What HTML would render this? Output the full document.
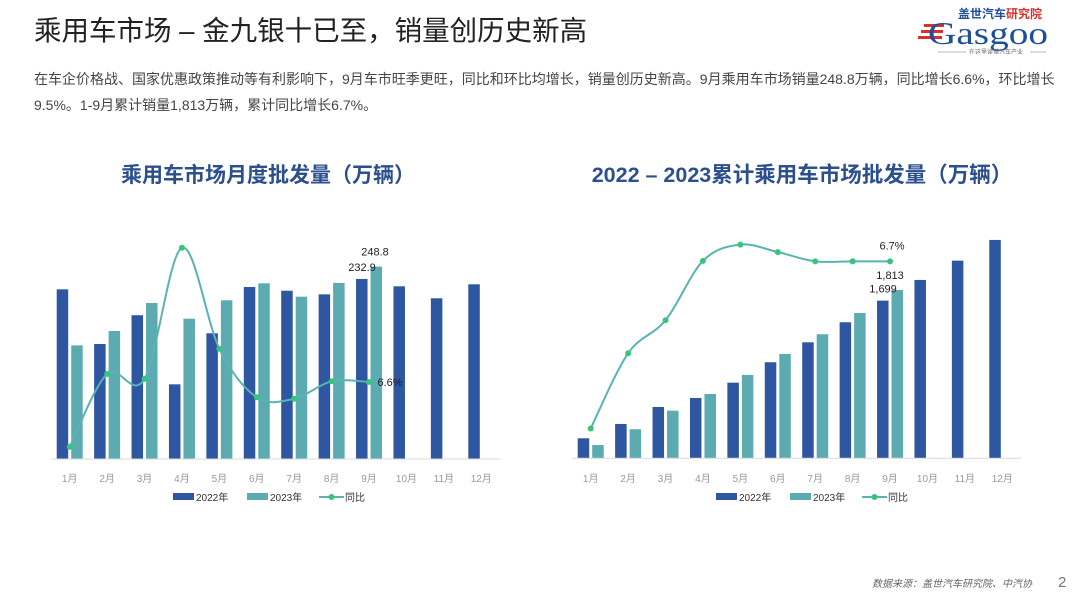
<!DOCTYPE html>
<html><head><meta charset="utf-8">
<style>
body{margin:0;width:1080px;height:596px;background:#fff;overflow:hidden;font-family:"Liberation Sans","Noto Sans CJK SC",sans-serif;position:relative}
.abs{position:absolute;white-space:nowrap}
</style></head><body>
<div class="abs" style="left:34px;top:8px;font-size:27.5px;color:#222;">乘用车市场 – 金九银十已至，销量创历史新高</div>
<div class="abs" style="left:34px;top:66px;font-size:14px;color:#444;line-height:26px;">在车企价格战、国家优惠政策推动等有利影响下，9月车市旺季更旺，同比和环比均增长，销量创历史新高。9月乘用车市场销量248.8万辆，同比增长6.6%，环比增长<br>9.5%。1-9月累计销量1,813万辆，累计同比增长6.7%。</div>
<div class="abs" style="left:918px;top:2px;width:135px;height:52px;">
 <svg width="135" height="52">
  <text x="40" y="16" font-size="12" font-weight="bold" fill="#1f4f9a" font-family="Noto Sans CJK SC,sans-serif">盖世汽车</text>
  <text x="88" y="16" font-size="12" font-weight="bold" fill="#d9302c" font-family="Noto Sans CJK SC,sans-serif">研究院</text>
  <rect x="6" y="22" width="20" height="3" fill="#d9302c"/><rect x="3" y="28" width="22" height="3" fill="#d9302c"/><rect x="0" y="34" width="24" height="3" fill="#d9302c"/>
  <text x="10" y="42" font-size="32" fill="#1f4f9a" font-family="Liberation Serif,serif" textLength="120" lengthAdjust="spacingAndGlyphs">Gasgoo</text>
  <line x1="20" y1="50" x2="48" y2="50" stroke="#bbb"/><line x1="112" y1="50" x2="128" y2="50" stroke="#bbb"/>
  <text x="51" y="52" font-size="6" fill="#666" font-family="Noto Sans CJK SC,sans-serif">在这里读懂汽车产业</text>
 </svg></div>
<svg id="c" width="1080" height="596" class="abs" style="left:0;top:0"></svg>
<div class="abs" style="left:872px;top:575px;font-size:10px;font-style:italic;color:#666;">数据来源：盖世汽车研究院、中汽协</div>
<div class="abs" style="left:1058px;top:574px;font-size:15px;color:#777;">2</div>
<script>
const months=["1月","2月","3月","4月","5月","6月","7月","8月","9月","10月","11月","12月"];
const monthly2022=[219.5,148.8,186,96.6,162.6,222.5,217.7,213,232.9,223.4,207.9,226];
const monthly2023=[147,165.6,201.8,181.5,205.3,227.3,210,227.7,248.8];
const monthlyYoY=[-31.3,11.3,8.4,85,26,-2.3,-3.2,7,6.6];
const cum2022=[215.6,370,553,650,815,1035,1250,1466,1699,1922,2130,2353];
const cum2023=[143,313,513,693,898,1124,1337,1566,1813];
const cumYoY=[-31.3,-14.2,-6.7,6.8,10.5,8.8,6.7,6.7,6.7];
const legendLabels=["2022年","2023年","同比"];
const NS="http://www.w3.org/2000/svg",svg=document.getElementById('c');
function el(t,a,p){const e=document.createElementNS(NS,t);for(const k in a)e.setAttribute(k,a[k]);(p||svg).appendChild(e);return e;}
function txt(x,y,s,a,p){const e=el('text',Object.assign({x:x,y:y},a),p);e.textContent=s;return e;}
function smooth(pts){let d="M"+pts[0][0]+","+pts[0][1];for(let i=0;i<pts.length-1;i++){const p0=pts[i-1]||pts[i],p1=pts[i],p2=pts[i+1],p3=pts[i+2]||p2;const t=0.5/3;d+=" C"+(p1[0]+(p2[0]-p0[0])*t)+","+(p1[1]+(p2[1]-p0[1])*t)+" "+(p2[0]-(p3[0]-p1[0])*t)+","+(p2[1]-(p3[1]-p1[1])*t)+" "+p2[0]+","+p2[1];}return d;}
function chart(o){
 const g=el('g',{});
 const band=(o.x1-o.x0)/12;
 const xc=i=>o.x0+band*(i+0.5);
 const y=v=>o.base-v*o.k;
 const yl=v=>o.lz-v*o.lk;
 const t=txt(o.tx,182,o.title,{'font-size':o.ts,'font-weight':'bold','text-anchor':'middle',fill:'#2c4f8e','font-family':'Liberation Sans,Noto Sans CJK SC,sans-serif'},g);
 
 o.a.forEach((v,i)=>{const r=el('rect',{x:xc(i)-13,y:y(v),width:11.5,height:o.base-y(v),fill:'#2e56a1'},g);
  });
 o.b.forEach((v,i)=>{const r=el('rect',{x:xc(i)+1.5,y:y(v),width:11.5,height:o.base-y(v),fill:'#5babb1'},g);
  });
 const ax=el('line',{x1:o.x0,x2:o.x1,y1:o.base,y2:o.base,stroke:'#d9d9d9'},g);
 
 months.forEach((m,i)=>{const l=txt(xc(i),482,m,{'font-size':10,'text-anchor':'middle',fill:'#999'},g);
  });
 const pts=o.c.map((v,i)=>[xc(i),yl(v)]);
 const p=el('path',{d:smooth(pts),fill:'none',stroke:'#5ab3b3','stroke-width':2},g);
 
 pts.forEach(q=>{const c=el('circle',{cx:q[0],cy:q[1],r:3,fill:'#35c67a'},g);
  });
 const n=o.b.length-1,fs={'font-size':11,fill:'#222','text-anchor':'middle'};
 let l1=txt(xc(n)-7,y(o.a[n])-8,o.la,fs,g);
 let l2=txt(xc(n)+o.lbx,y(o.b[n])-o.lby,o.lb,fs,g);
 let l3=txt(pts[n][0]+o.lcx,pts[n][1]+o.lcy,o.lc,fs,g);
 const L=o.leg;
 const r1=el('rect',{x:L,y:493,width:21,height:7,fill:'#2e56a1'},g);
 txt(L+23,501,legendLabels[0],{'font-size':10,fill:'#333'},g);
 const r2=el('rect',{x:L+74,y:493,width:21,height:7,fill:'#5babb1'},g);
 txt(L+97,501,legendLabels[1],{'font-size':10,fill:'#333'},g);
 const ll=el('line',{x1:L+146,x2:L+171,y1:497,y2:497,stroke:'#5ab3b3','stroke-width':2},g);
 el('circle',{cx:L+158.5,cy:497,r:3,fill:'#35c67a'},g);
 txt(L+172,501,legendLabels[2],{'font-size':10,fill:'#333'},g);
}
chart({name:'monthly-chart',title:'乘用车市场月度批发量（万辆）',tx:268,ts:21,x0:51,x1:500,base:459,k:0.773,lz:393.3,lk:1.713,a:monthly2022,b:monthly2023,c:monthlyYoY,la:'232.9',lb:'248.8',lbx:6,lby:11,lc:'6.6%',lcx:21,lcy:4,leg:173});
chart({name:'cumulative-chart',title:'2022 – 2023累计乘用车市场批发量（万辆）',tx:802,ts:21.5,x0:572,x1:1021,base:458.3,k:0.0928,lz:290.8,lk:4.4,a:cum2022,b:cum2023,c:cumYoY,la:'1,699',lb:'1,813',lbx:0,lby:11,lc:'6.7%',lcx:2,lcy:-12,leg:716});
</script>
</body></html>
